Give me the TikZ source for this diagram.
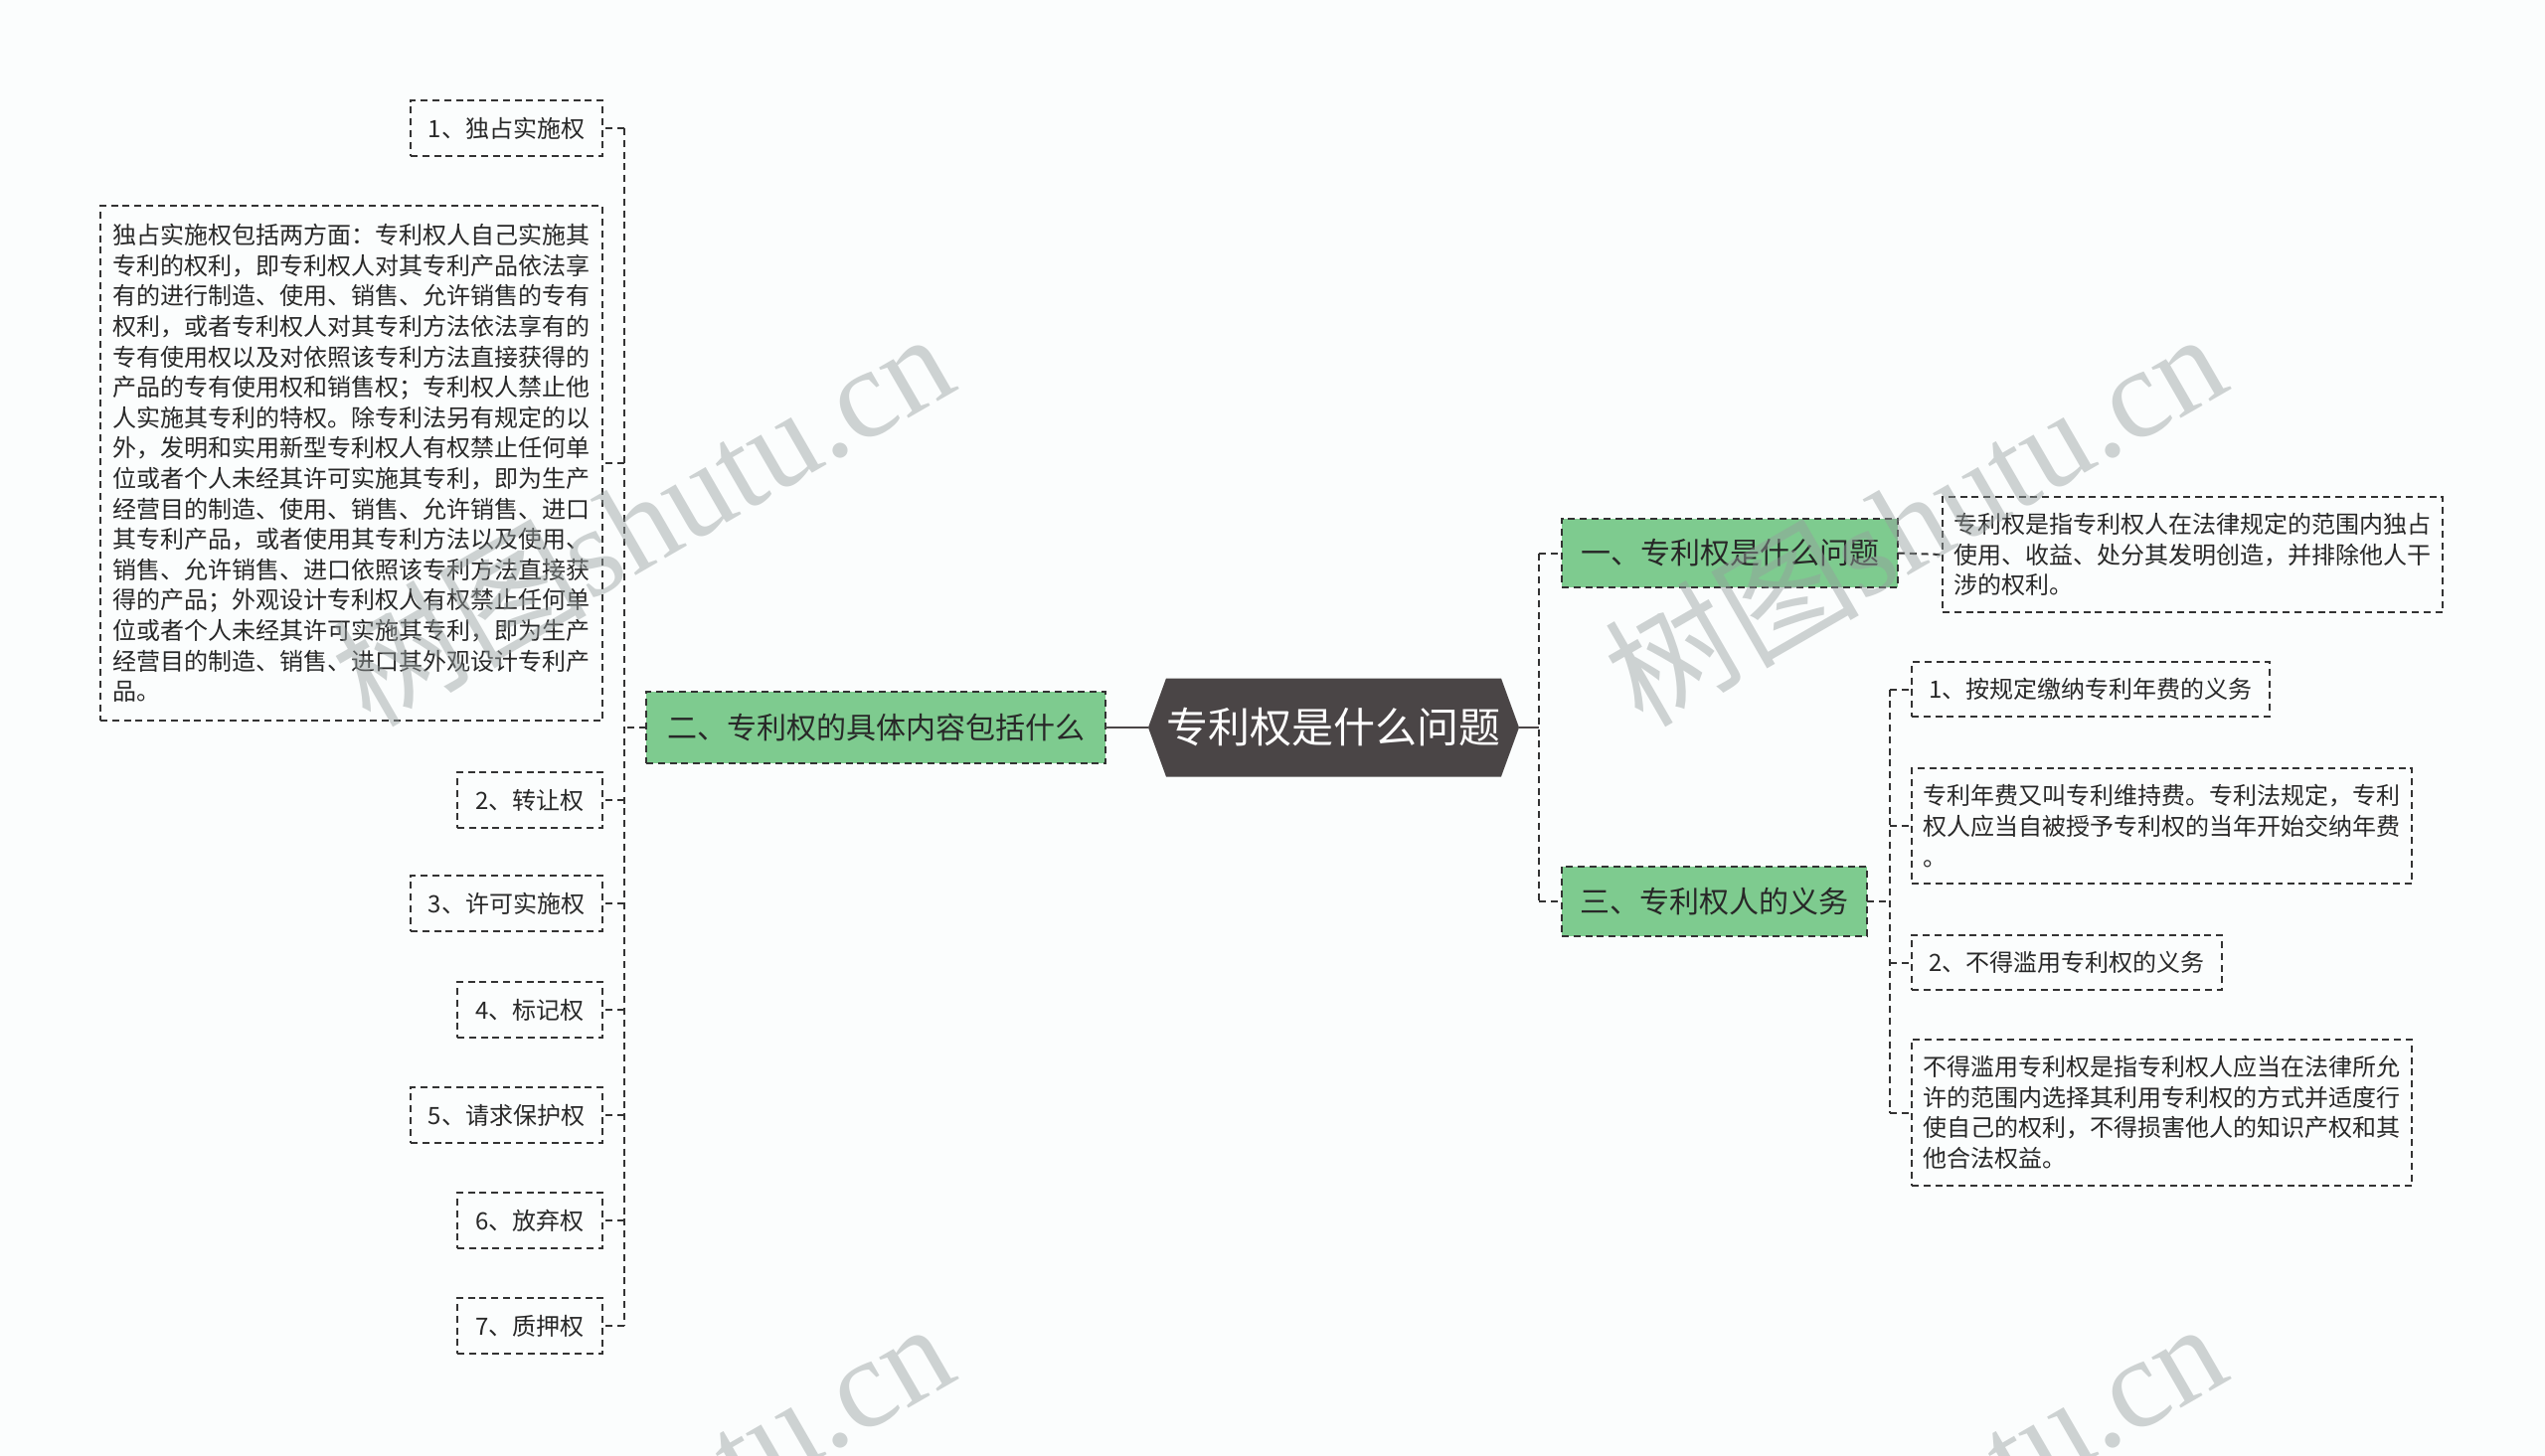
\documentclass[tikz,border=0pt]{standalone}
\usepackage{fontspec}
\setmainfont{Noto Sans CJK SC}
\newfontfamily\wmserif{Liberation Serif}
\usetikzlibrary{backgrounds}
\definecolor{bgc}{RGB}{251,253,253}
\definecolor{darkc}{RGB}{74,69,70}
\definecolor{gfill}{RGB}{126,203,143}
\definecolor{inkc}{RGB}{40,40,40}
\definecolor{linec}{RGB}{51,51,51}
\definecolor{wmc}{RGB}{150,158,158}
\begin{document}
\begin{tikzpicture}[x=0.5pt,y=-0.5pt,
  every node/.style={inner sep=0pt, outer sep=0pt},
  dline/.style={draw=linec, line width=1pt, dash pattern=on 3.5pt off 2.4pt},
  sline/.style={draw=darkc, line width=1.4pt},
  rootbox/.style={minimum width=186.5pt, minimum height=49.5pt, text=white,
    font=\fontsize{21pt}{25pt}\selectfont},
  mainbox/.style={dline, fill=gfill, text=inkc, font=\fontsize{15pt}{18pt}\selectfont},
  leafbox/.style={dline, text=inkc, font=\fontsize{12pt}{15.3pt}\selectfont, minimum height=28pt},
  notebox/.style={leafbox, align=left},
  wmark/.style={text=wmc, text opacity=0.45, font=\fontsize{64pt}{64pt}\selectfont, rotate=30},
]
\begin{scope}[on background layer]
  \fill[bgc] (0,0) rectangle (2560,1465);
\end{scope}
\useasboundingbox (0,0) rectangle (2560,1465);

% root
\node[rootbox] (c) at (1341.5,732) {专利权是什么问题};
\begin{scope}[on background layer]
  \fill[darkc] (c.west) -- ([xshift=9pt]c.north west) -- ([xshift=-9pt]c.north east)
    -- (c.east) -- ([xshift=-9pt]c.south east) -- ([xshift=9pt]c.south west) -- cycle;
\end{scope}

% main branches
\node[mainbox, minimum width=231pt, minimum height=36pt] (g2) at (881,732) {二、专利权的具体内容包括什么};
\node[mainbox, minimum width=169pt, minimum height=34.5pt] (g1) at (1740,556.5) {一、专利权是什么问题};
\node[mainbox, minimum width=153.5pt, minimum height=35pt] (g3) at (1724.5,907) {三、专利权人的义务};

% left leaves
\node[leafbox, anchor=east, minimum width=96.5pt] (L1) at (606,129) {1、独占实施权};
\node[notebox, anchor=east, minimum width=252.5pt, minimum height=259pt] (T) at (606,466) {独占实施权包括两方面：专利权人自己实施其\\
专利的权利，即专利权人对其专利产品依法享\\
有的进行制造、使用、销售、允许销售的专有\\
权利，或者专利权人对其专利方法依法享有的\\
专有使用权以及对依照该专利方法直接获得的\\
产品的专有使用权和销售权；专利权人禁止他\\
人实施其专利的特权。除专利法另有规定的以\\
外，发明和实用新型专利权人有权禁止任何单\\
位或者个人未经其许可实施其专利，即为生产\\
经营目的制造、使用、销售、允许销售、进口\\
其专利产品，或者使用其专利方法以及使用、\\
销售、允许销售、进口依照该专利方法直接获\\
得的产品；外观设计专利权人有权禁止任何单\\
位或者个人未经其许可实施其专利，即为生产\\
经营目的制造、销售、进口其外观设计专利产\\
品。};
\node[leafbox, anchor=east, minimum width=73pt] (L2) at (606,805) {2、转让权};
\node[leafbox, anchor=east, minimum width=96.5pt] (L3) at (606,909) {3、许可实施权};
\node[leafbox, anchor=east, minimum width=73pt] (L4) at (606,1016) {4、标记权};
\node[leafbox, anchor=east, minimum width=96.5pt] (L5) at (606,1122) {5、请求保护权};
\node[leafbox, anchor=east, minimum width=73pt] (L6) at (606,1228) {6、放弃权};
\node[leafbox, anchor=east, minimum width=73pt] (L7) at (606,1334) {7、质押权};

% right leaves
\node[notebox, anchor=west, minimum width=251.5pt, minimum height=58pt] (d1) at (1954,558) {专利权是指专利权人在法律规定的范围内独占\\
使用、收益、处分其发明创造，并排除他人干\\
涉的权利。};
\node[leafbox, anchor=west, minimum width=180pt, minimum height=27.5pt] (R1) at (1923,693.5) {1、按规定缴纳专利年费的义务};
\node[notebox, anchor=west, minimum width=251.5pt, minimum height=58pt] (R2) at (1923,831) {专利年费又叫专利维持费。专利法规定，专利\\
权人应当自被授予专利权的当年开始交纳年费\\
。};
\node[leafbox, anchor=west, minimum width=156pt, minimum height=27.5pt] (R3) at (1923,968.5) {2、不得滥用专利权的义务};
\node[notebox, anchor=west, minimum width=251.5pt, minimum height=73.5pt] (R4) at (1923,1119.5) {不得滥用专利权是指专利权人应当在法律所允\\
许的范围内选择其利用专利权的方式并适度行\\
使自己的权利，不得损害他人的知识产权和其\\
他合法权益。};

% connectors left
\coordinate (lb) at (628,732);
\draw[sline] (c.west) -- (g2.east);
\draw[dline] (g2.west) -- (lb);
\draw[dline] (lb |- L1.east) -- (lb |- L7.east);
\foreach \n in {L1,T,L2,L3,L4,L5,L6,L7} \draw[dline] (lb |- \n.east) -- (\n.east);

% connectors right
\coordinate (rb) at (1548,732);
\draw[sline] (c.east) -- (rb);
\draw[dline] (rb |- g1.west) -- (rb |- g3.west);
\draw[dline] (rb |- g1.west) -- (g1.west);
\draw[dline] (rb |- g3.west) -- (g3.west);
\draw[dline] (g1.east) -- (d1.west);
\coordinate (rb2) at (1901,907);
\draw[dline] (g3.east) -- (rb2);
\draw[dline] (rb2 |- R1.west) -- (rb2 |- R4.west);
\foreach \n in {R1,R2,R3,R4} \draw[dline] (rb2 |- \n.west) -- (\n.west);

% watermarks
\begin{scope}
  \clip (0,0) rectangle (2560,1465);
  \node[wmark] (w1) at (645,520) {树图{\wmserif shutu.cn}};
  \node[wmark] (w2) at (1925,520) {树图{\wmserif shutu.cn}};
  \node[wmark] (w3) at (645,1516) {树图{\wmserif shutu.cn}};
  \node[wmark] (w4) at (1925,1516) {树图{\wmserif shutu.cn}};
\end{scope}
\end{tikzpicture}
\end{document}
